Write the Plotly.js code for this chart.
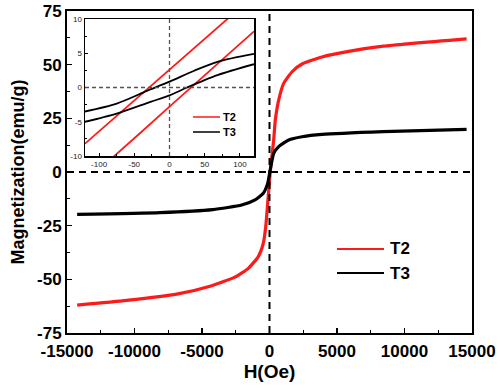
<!DOCTYPE html>
<html>
<head>
<meta charset="utf-8">
<script src="https://cdn.plot.ly/plotly-3.0.1.min.js"></script>
<style>html,body{margin:0;padding:0;background:#fff;}#chart{width:500px;height:388px;}</style>
</head>
<body>
<div id="chart"></div>
<script>
// Main loop: H (Oe) and magnetization (emu/g)
const t2H = [-14250, -10580, -6870, -4410, -2560, -1570, -830, -460, -280, -135, -30, 60, 180, 310, 430, 680, 1050, 1670, 2410, 3890, 5960, 8430, 14600];
const t2M = [-62.0, -59.8, -56.9, -53.2, -49.0, -44.9, -39.4, -33.2, -25.5, -14.6, -6.5, 0.5, 7.5, 14.9, 24.2, 33.5, 41.3, 46.7, 50.3, 53.6, 56.3, 58.6, 62.0];
const t3H = [-14250, -8110, -4200, -2060, -1070, -460, -135, 40, 310, 680, 1420, 2410, 3890, 8430, 14600];
const t3M = [-19.7, -18.9, -17.5, -15.4, -13.0, -9.9, -5.3, 0.5, 8.7, 11.8, 14.9, 16.4, 17.5, 18.8, 19.9];

// Inset (low-field) branches
const insT2H = [-120, -80, -40, 0, 40, 80, 120];
const insT2Upper = [-8.2, -4.6, -1.0, 2.6, 6.2, 9.8, 13.4];
const insT2Lower = [-13.8, -10.2, -6.5, -2.8, 0.9, 4.6, 8.2];
const insT3UpperH = [-122, -75, -32, 0, 35, 68, 120];
const insT3Upper = [-3.55, -2.35, -0.5, 0.85, 2.45, 3.75, 4.9];
const insT3LowerH = [-122, -75, -27, 0, 25, 68, 120];
const insT3Lower = [-5.05, -3.8, -2.1, -1.15, 0.0, 1.8, 3.4];

// Tick labels
const mainXTicks = [-15000, -10000, -5000, 0, 5000, 10000, 15000];
const mainXText = ['-15000', '-10000', '-5000', '0', '5000', '10000', '15000'];
const mainYTicks = [-75, -50, -25, 0, 25, 50, 75];
const mainYText = ['-75', '-50', '-25', '0', '25', '50', '75'];
const insXTicks = [-100, -50, 0, 50, 100];
const insXText = ['-100', '-50', '0', '50', '100'];
const insYTicks = [-10, -5, 0, 5, 10];
const insYText = ['-10', '-5', '0', '5', '10'];

const seriesNames = ['T2', 'T3'];
const RED = '#ff1a1a';
const BLK = '#000000';

const traces = [
  {x: t2H, y: t2M, mode: 'lines', line: {color: RED, width: 3.2, shape: 'spline', smoothing: 0.5}, showlegend: false, xaxis: 'x', yaxis: 'y'},
  {x: t3H, y: t3M, mode: 'lines', line: {color: BLK, width: 3.2, shape: 'spline', smoothing: 0.5}, showlegend: false, xaxis: 'x', yaxis: 'y'},
  {x: insT2H, y: insT2Upper, mode: 'lines', line: {color: RED, width: 1.8}, showlegend: false, xaxis: 'x2', yaxis: 'y2'},
  {x: insT2H, y: insT2Lower, mode: 'lines', line: {color: RED, width: 1.8}, showlegend: false, xaxis: 'x2', yaxis: 'y2'},
  {x: insT3UpperH, y: insT3Upper, mode: 'lines', line: {color: BLK, width: 1.8, shape: 'spline', smoothing: 0.8}, showlegend: false, xaxis: 'x2', yaxis: 'y2'},
  {x: insT3LowerH, y: insT3Lower, mode: 'lines', line: {color: BLK, width: 1.8, shape: 'spline', smoothing: 0.8}, showlegend: false, xaxis: 'x2', yaxis: 'y2'}
];

const FAM = 'Liberation Sans, Arial, sans-serif';
const bold = {family: FAM, size: 17, color: '#000', weight: 'bold'};
const small = {family: FAM, size: 8, color: '#222'};

const dashMain = {color: '#000', width: 2, dash: '7px,5px'};
const dashIns = {color: '#555', width: 1.3, dash: '4px,3px'};

const px = v => (v - 67) / 405;
const py = v => (333 - v) / 322;

const shapes = [
  {type: 'line', xref: 'x', yref: 'y domain', x0: 0, x1: 0, y0: 0, y1: 1, line: dashMain, layer: 'above'},
  {type: 'line', xref: 'x domain', yref: 'y', x0: 0, x1: 1, y0: 0, y1: 0, line: dashMain, layer: 'above'},
  {type: 'line', xref: 'x2', yref: 'y2 domain', x0: 0, x1: 0, y0: 0, y1: 1, line: dashIns, layer: 'above'},
  {type: 'line', xref: 'x2 domain', yref: 'y2', x0: 0, x1: 1, y0: 0, y1: 0, line: dashIns, layer: 'above'},
  // main legend samples
  {type: 'line', xref: 'paper', yref: 'paper', x0: px(337), x1: px(384), y0: py(249), y1: py(249), line: {color: RED, width: 2}},
  {type: 'line', xref: 'paper', yref: 'paper', x0: px(337), x1: px(384), y0: py(273), y1: py(273), line: {color: BLK, width: 2}},
  // inset legend samples
  {type: 'line', xref: 'paper', yref: 'paper', x0: px(193), x1: px(220), y0: py(117), y1: py(117), line: {color: RED, width: 1.5}},
  {type: 'line', xref: 'paper', yref: 'paper', x0: px(193), x1: px(220), y0: py(132), y1: py(132), line: {color: BLK, width: 1.5}}
];

const annotations = [
  {text: seriesNames[0], xref: 'paper', yref: 'paper', x: px(388), y: py(249), xanchor: 'left', yanchor: 'middle', showarrow: false, font: {family: FAM, size: 17, color: '#000', weight: 'bold'}},
  {text: seriesNames[1], xref: 'paper', yref: 'paper', x: px(388), y: py(273), xanchor: 'left', yanchor: 'middle', showarrow: false, font: {family: FAM, size: 17, color: '#000', weight: 'bold'}},
  {text: seriesNames[0], xref: 'paper', yref: 'paper', x: px(221), y: py(117), xanchor: 'left', yanchor: 'middle', showarrow: false, font: {family: FAM, size: 11, color: '#000', weight: 'bold'}},
  {text: seriesNames[1], xref: 'paper', yref: 'paper', x: px(221), y: py(132), xanchor: 'left', yanchor: 'middle', showarrow: false, font: {family: FAM, size: 11, color: '#000', weight: 'bold'}}
];

const layout = {
  width: 500, height: 388,
  margin: {l: 67, r: 28, t: 11, b: 55, pad: 0},
  paper_bgcolor: '#fff', plot_bgcolor: '#fff',
  showlegend: false,
  xaxis: {
    domain: [0, 1], range: [-15000, 15000], tickvals: mainXTicks, ticktext: mainXText,
    ticks: 'inside', ticklen: 5, tickwidth: 1.5, tickcolor: '#000', ticklabelstandoff: 2,
    minor: {dtick: 2500, tick0: 0, ticks: 'inside', ticklen: 3, tickwidth: 1.2, tickcolor: '#000'},
    showline: true, linewidth: 2, linecolor: '#000', mirror: true, showgrid: false, zeroline: false,
    tickfont: bold, title: {text: 'H(Oe)', font: {family: FAM, size: 19, color: '#000', weight: 'bold'}, standoff: 4}
  },
  yaxis: {
    domain: [0, 1], range: [-75, 75], tickvals: mainYTicks, ticktext: mainYText,
    ticks: 'inside', ticklen: 5, tickwidth: 1.5, tickcolor: '#000',
    minor: {dtick: 12.5, tick0: 0, ticks: 'inside', ticklen: 3, tickwidth: 1.2, tickcolor: '#000'},
    showline: true, linewidth: 2, linecolor: '#000', mirror: true, showgrid: false, zeroline: false,
    tickfont: bold, title: {text: 'Magnetization(emu/g)', font: {family: FAM, size: 18, color: '#000', weight: 'bold'}, standoff: 8}
  },
  xaxis2: {
    domain: [px(85), px(254)], anchor: 'y2', range: [-120, 120], tickvals: insXTicks, ticktext: insXText,
    ticks: 'inside', ticklen: 3, tickwidth: 1, tickcolor: '#000',
    minor: {dtick: 25, tick0: 0, ticks: 'inside', ticklen: 2, tickwidth: 1, tickcolor: '#000'},
    showline: true, linewidth: 1.5, linecolor: '#000', mirror: true, showgrid: false, zeroline: false,
    tickfont: small
  },
  yaxis2: {
    domain: [py(156), py(19)], anchor: 'x2', range: [-10, 10], tickvals: insYTicks, ticktext: insYText,
    ticks: 'inside', ticklen: 3, tickwidth: 1, tickcolor: '#000',
    minor: {dtick: 2.5, tick0: 0, ticks: 'inside', ticklen: 2, tickwidth: 1, tickcolor: '#000'},
    showline: true, linewidth: 1.5, linecolor: '#000', mirror: true, showgrid: false, zeroline: false,
    tickfont: small
  },
  shapes: shapes,
  annotations: annotations
};

Plotly.newPlot('chart', traces, layout, {staticPlot: true, displayModeBar: false});
</script>
</body>
</html>
